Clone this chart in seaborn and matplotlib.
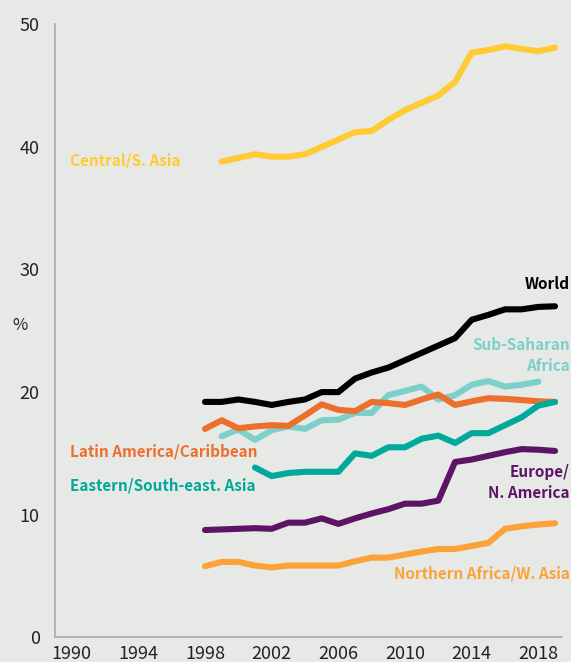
import matplotlib
matplotlib.use("Agg")
import matplotlib.pyplot as plt
import numpy as np
import pandas as pd
import seaborn as sns

# values (% by year)
years_98 = list(range(1998, 2020))
years_99 = list(range(1999, 2020))
years_ssa = list(range(1999, 2019))
years_01 = list(range(2001, 2020))

central_asia = [38.8, 39.1, 39.4, 39.2, 39.2, 39.4, 40.0, 40.6, 41.2, 41.3, 42.2,
                43.0, 43.6, 44.2, 45.3, 47.7, 47.9, 48.2, 48.0, 47.8, 48.1]
world = [19.2, 19.2, 19.4, 19.2, 18.95, 19.2, 19.4, 20.0, 20.0, 21.1, 21.6,
         22.0, 22.6, 23.2, 23.8, 24.4, 25.9, 26.3, 26.75, 26.75, 26.95, 27.0]
sub_saharan = [16.4, 16.95, 16.1, 16.9, 17.2, 17.0, 17.7, 17.75, 18.3, 18.3,
               19.75, 20.1, 20.45, 19.4, 19.75, 20.6, 20.9, 20.45, 20.6, 20.85]
latin_america = [17.0, 17.7, 17.05, 17.2, 17.3, 17.25, 18.1, 19.0, 18.55, 18.45, 19.2,
                 19.1, 18.95, 19.4, 19.8, 18.95, 19.25, 19.5, 19.45, 19.35, 19.25, 19.2]
east_asia = [13.85, 13.15, 13.4, 13.5, 13.5, 13.5, 15.0, 14.8, 15.5, 15.5,
             16.2, 16.45, 15.85, 16.65, 16.65, 17.3, 17.95, 18.9, 19.2]
europe = [8.75, 8.8, 8.85, 8.9, 8.85, 9.35, 9.35, 9.7, 9.25, 9.7, 10.1,
          10.45, 10.9, 10.9, 11.15, 14.3, 14.5, 14.8, 15.1, 15.35, 15.3, 15.2]
north_africa = [5.8, 6.15, 6.15, 5.85, 5.7, 5.85, 5.85, 5.85, 5.85, 6.2, 6.5,
                6.5, 6.75, 7.0, 7.2, 7.2, 7.45, 7.7, 8.85, 9.05, 9.2, 9.3]

x_ticks = [1990, 1994, 1998, 2002, 2006, 2010, 2014, 2018]
y_ticks = [0, 10, 20, 30, 40, 50]

series = {
    "Sub-Saharan Africa": (years_ssa, sub_saharan, "#7DCFCA"),
    "Latin America/Caribbean": (years_98, latin_america, "#EC702B"),
    "Eastern/South-east. Asia": (years_01, east_asia, "#00A99C"),
    "World": (years_98, world, "#000000"),
    "Central/S. Asia": (years_99, central_asia, "#FFCA33"),
    "Europe/N. America": (years_98, europe, "#5D1466"),
    "Northern Africa/W. Asia": (years_98, north_africa, "#FBA23A"),
}

df = pd.concat([
    pd.DataFrame({"year": yrs, "value": vals, "region": name})
    for name, (yrs, vals, _) in series.items()
], ignore_index=True)
palette = {name: c for name, (_, _, c) in series.items()}

BG = "#E7E9E6"
sns.set_style("white")
plt.rcParams.update({
    "font.family": ["Noto Sans CJK SC", "DejaVu Sans"],
    "axes.facecolor": BG, "figure.facecolor": BG,
})

fig = plt.figure(figsize=(5.71, 6.62), dpi=100)
ax = fig.add_axes([55 / 571, 1 - 637.3 / 662, (561.7 - 55) / 571, (637.3 - 24.3) / 662])

sns.lineplot(data=df, x="year", y="value", hue="region", hue_order=list(series),
             palette=palette, linewidth=4.4, legend=False, ax=ax,
             solid_capstyle="round", solid_joinstyle="round")

ax.set_xlim(1989.0, 2019.4)
ax.set_ylim(0, 50)
ax.set_xticks(x_ticks)
ax.set_yticks(y_ticks)
ax.set_xlabel("")
ax.set_ylabel("")
ax.tick_params(axis="x", length=0, pad=5.5, labelsize=13, labelcolor="#222222")
ax.tick_params(axis="y", length=7, width=1, color="#AAAAAA", pad=4,
               labelsize=13, labelcolor="#222222")
for side in ["top", "right"]:
    ax.spines[side].set_visible(False)
for side in ["left", "bottom"]:
    ax.spines[side].set_color("#AAAAAA")
    ax.spines[side].set_linewidth(1.2)

lab = dict(fontsize=11, fontweight="bold", va="center")
ax.text(1989.9, 38.9, "Central/S. Asia", color=palette["Central/S. Asia"], ha="left", **lab)
ax.text(2019.9, 28.8, "World", color="#000000", ha="right", **lab)
ax.text(2019.9, 23.0, "Sub-Saharan\nAfrica", color=palette["Sub-Saharan Africa"],
        ha="right", multialignment="right", linespacing=1.4, **lab)
ax.text(1989.9, 15.15, "Latin America/Caribbean", color=palette["Latin America/Caribbean"],
        ha="left", **lab)
ax.text(1989.9, 12.35, "Eastern/South-east. Asia", color=palette["Eastern/South-east. Asia"],
        ha="left", **lab)
ax.text(2019.85, 12.65, "Europe/\nN. America", color=palette["Europe/N. America"],
        ha="right", multialignment="right", linespacing=1.4, **lab)
ax.text(2019.9, 5.2, "Northern Africa/W. Asia", color=palette["Northern Africa/W. Asia"],
        ha="right", **lab)
fig.text(20 / 571, 1 - 326 / 662, "%", fontsize=12, color="#222222", ha="center", va="center")

fig.savefig("out.png", dpi=100, facecolor=BG)
